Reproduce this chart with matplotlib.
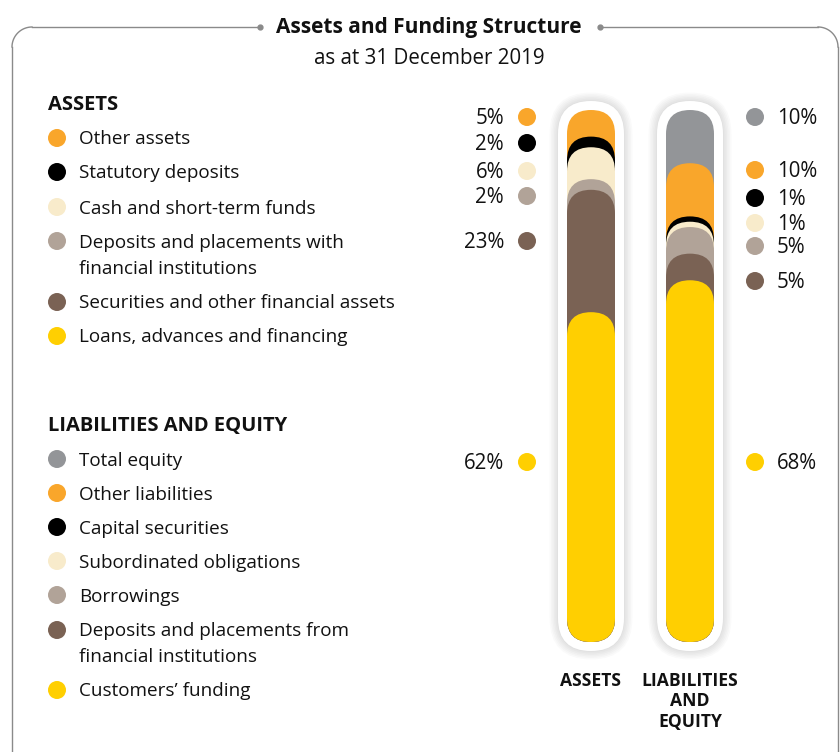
import numpy as np
import matplotlib
matplotlib.use("Agg")
import matplotlib.pyplot as plt
from matplotlib.patches import FancyBboxPatch, Circle

plt.rcParams['font.family'] = ['Open Sans', 'DejaVu Sans']

# composition, top of the bar first
asset_labels = ["Other assets", "Statutory deposits", "Cash and short-term funds",
                "Deposits and placements with\nfinancial institutions",
                "Securities and other financial assets", "Loans, advances and financing"]
asset_pct = [5, 2, 6, 2, 23, 62]

liab_labels = ["Total equity", "Other liabilities", "Capital securities",
               "Subordinated obligations", "Borrowings",
               "Deposits and placements from\nfinancial institutions", "Customers\u2019 funding"]
liab_pct = [10, 10, 1, 1, 5, 5, 68]

asset_colors = ["#F9A62B", "#000000", "#F8EBCB", "#B1A398", "#7A6254", "#FFCF01"]
liab_colors = ["#939598", "#F9A62B", "#000000", "#F8EBCB", "#B1A398", "#7A6254", "#FFCF01"]

fig = plt.figure(figsize=(8.4, 7.52), dpi=100)
ax = fig.add_axes([0, 0, 1, 1])
ax.set_xlim(0, 840)
ax.set_ylim(752, 0)
ax.axis('off')

# outer frame with title break
grey = "#8A8A8A"
r = 20
t = np.linspace(np.pi, 1.5 * np.pi, 30)
ax.plot([12, 12], [800, 27 + r], color=grey, lw=1)
ax.plot(12 + r + r * np.cos(t), 27 + r + r * np.sin(t), color=grey, lw=1)
ax.plot([12 + r, 258], [27, 27], color=grey, lw=1)
ax.plot([602, 838 - r], [27, 27], color=grey, lw=1)
t2 = np.linspace(1.5 * np.pi, 2 * np.pi, 30)
ax.plot(838 - r + r * np.cos(t2), 27 + r + r * np.sin(t2), color=grey, lw=1)
ax.plot([838, 838], [27 + r, 800], color=grey, lw=1)
ax.plot([260, 600], [27, 27], 'o', color=grey, ms=3.5)
ax.text(429, 28, "Assets and Funding Structure", ha='center', va='center',
        fontsize=15, fontweight='bold', color="#111111")
ax.text(429, 59, "as at 31 December 2019", ha='center', va='center',
        fontsize=14.8, color="#111111")

# left legend
def legend_block(title, y_title, labels, colors, ys):
    ax.text(48, y_title + 1.5, title, ha='left', va='center', fontsize=14.5,
            fontweight='bold', color="#111111")
    for lab, c, y in zip(labels, colors, ys):
        ax.add_patch(Circle((57, y), 9, color=c, lw=0))
        lines = lab.split("\n")
        for k, ln in enumerate(lines):
            ax.text(79, y + 1.5 + 26 * k, ln, ha='left', va='center', fontsize=13.6,
                    color="#111111")

legend_block("ASSETS", 104, asset_labels, asset_colors,
             [138, 172, 207, 241, 302, 336])
legend_block("LIABILITIES AND EQUITY", 424, liab_labels, liab_colors,
             [459, 493, 527, 561, 595, 630, 690])

# stacked pill columns
col_top, col_bot, col_w = 110, 642, 48

def pill_column(xc, pct, colors):
    # soft shadow and white casing
    for k in range(6):
        pad = 10 + k * 1.5
        ax.add_patch(FancyBboxPatch((xc - col_w / 2 - pad, col_top - pad),
                                    col_w + 2 * pad, col_bot - col_top + 2 * pad,
                                    boxstyle=f"round,pad=0,rounding_size={col_w / 2 + pad}",
                                    fc="#000000", ec='none', alpha=0.02, zorder=1))
    pad = 9
    ax.add_patch(FancyBboxPatch((xc - col_w / 2 - pad, col_top - pad),
                                col_w + 2 * pad, col_bot - col_top + 2 * pad,
                                boxstyle=f"round,pad=0,rounding_size={col_w / 2 + pad}",
                                fc="white", ec='none', zorder=2))
    H = col_bot - col_top
    starts = col_top + H * np.concatenate([[0], np.cumsum(pct)[:-1]]) / 100.0
    for i, (s, c) in enumerate(zip(starts, colors)):
        ax.add_patch(FancyBboxPatch((xc - col_w / 2, s), col_w, col_bot - s,
                                    boxstyle=f"round,pad=0,rounding_size={col_w / 2}",
                                    fc=c, ec='none', zorder=3 + i))

pill_column(591, asset_pct, asset_colors)
pill_column(690, liab_pct, liab_colors)

# value labels beside the columns
asset_label_y = [117, 143, 171, 196, 241, 462]
for v, c, y in zip(asset_pct, asset_colors, asset_label_y):
    ax.add_patch(Circle((527, y), 9, color=c, lw=0))
    ax.text(504, y + 1.5, f"{v}%", ha='right', va='center', fontsize=14.8, color="#111111")

liab_label_y = [117, 170, 198, 223, 246, 281, 462]
for v, c, y in zip(liab_pct, liab_colors, liab_label_y):
    ax.add_patch(Circle((755, y), 9, color=c, lw=0))
    ax.text(777, y + 1.5, f"{v}%", ha='left', va='center', fontsize=14.8, color="#111111")

ax.text(591, 681, "ASSETS", ha='center', va='center', fontsize=12.6,
        fontweight='bold', color="#111111")
for k, ln in enumerate(["LIABILITIES", "AND", "EQUITY"]):
    ax.text(690, 681 + 20.5 * k, ln, ha='center', va='center', fontsize=12.6,
            fontweight='bold', color="#111111")

fig.savefig("out.png", dpi=100)
